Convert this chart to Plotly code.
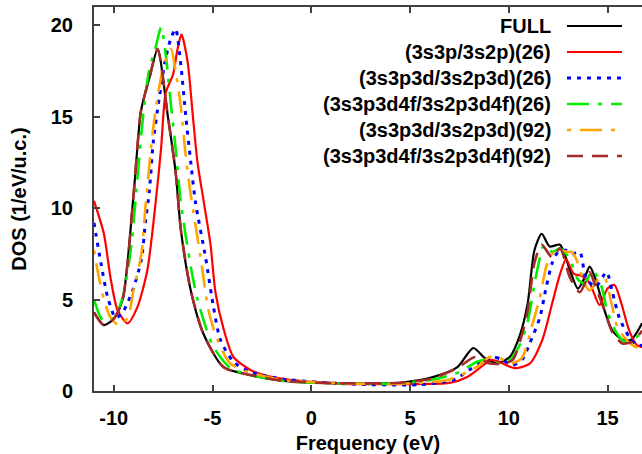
import plotly.graph_objects as go

# ---- data ----
full_x = [-11, -10.5, -10.0, -9.55, -9.0, -8.64, -8.43, -8.2, -7.78, -7.27, -6.87, -6.6, -6.1, -5.45, -4.44, -3.08, -1.4,
          1.1, 4.5, 6.2, 7.4, 8.2, 8.8, 9.4, 10.05, 10.55, 10.96, 11.3, 11.67, 12.07, 12.6, 13.1, 13.5, 13.84, 14.1,
          14.4, 14.85, 15.25, 15.76, 16.2, 16.75]
full_y = [4.3, 3.6, 3.95, 5.0, 10.7, 15.2, 16.2, 17.1, 18.7, 15.1, 12.0, 8.8, 5.5, 3.1, 1.3, 0.87, 0.55,
          0.43, 0.45, 0.77, 1.3, 2.35, 1.8, 1.53, 1.86, 3.0, 4.8, 7.7, 8.6, 7.9, 8.0, 6.6, 5.6, 6.2, 6.8,
          6.1, 4.4, 3.3, 2.8, 2.8, 3.7]

sp26_x = [-11, -10.5, -10.15, -9.8, -9.3, -8.8, -8.3, -7.88, -7.6, -7.37, -7.0, -6.77, -6.57, -6.26, -6.0, -5.76, -5.45,
          -5.1, -4.85, -4.44, -3.94, -3.08, -2.2, -0.55, 2.0, 4.5, 7.0, 7.9, 8.7, 9.1, 9.5, 10.3, 11.06, 11.7, 12.2,
          12.6, 12.9, 13.3, 13.7, 14.1, 14.6, 15.0, 15.35, 15.7, 16.1, 16.5, 16.75]
sp26_y = [10.4, 8.6, 6.1, 4.4, 3.7, 4.6, 6.6, 10.3, 13.3, 16.3, 17.3, 18.7, 19.5, 18.0, 15.1, 12.5, 10.4,
          8.0, 5.4, 3.4, 1.86, 1.15, 0.82, 0.55, 0.38, 0.38, 0.44, 0.77, 1.4, 1.7, 1.6, 1.25, 1.5, 2.8, 4.8,
          6.4, 7.2, 6.4, 6.3, 5.9, 4.7, 5.6, 5.8, 4.8, 3.3, 2.5, 2.4]

spd26_x = [-11, -10.65, -10.3, -9.9, -9.55, -9.04, -8.6, -8.4, -8.2, -8.0, -7.7, -7.37, -7.1, -6.87, -6.6, -6.36, -6.1,
           -5.86, -5.35, -4.95, -4.6, -3.94, -3.08, -1.4, 2.0, 5.5, 7.2, 8.0, 8.5, 9.2, 9.7, 10.2, 10.7, 11.06, 11.57,
           11.9, 12.2, 12.5, 12.9, 13.2, 13.6, 13.9, 14.4, 14.95, 15.25, 15.6, 16.1, 16.5, 16.75]
spd26_y = [9.2, 7.0, 5.1, 4.0, 4.3, 5.5, 7.2, 9.2, 10.9, 13.6, 16.0, 18.2, 19.3, 19.8, 17.8, 15.1, 12.5,
           10.3, 7.3, 4.6, 2.8, 1.6, 1.04, 0.65, 0.38, 0.35, 0.6, 1.15, 1.5, 1.86, 1.7, 1.4, 1.75, 2.6, 4.0,
           5.7, 7.0, 7.6, 7.7, 7.5, 7.6, 6.2, 5.7, 6.5, 5.4, 4.0, 2.95, 2.5, 2.5]

spdf26_x = [-11, -10.65, -10.4, -10.0, -9.55, -9.14, -8.9, -8.5, -8.2, -7.9, -7.6, -7.37, -7.1, -6.87, -6.6, -6.1,
            -5.76, -5.25, -4.95, -4.1, -3.08, -1.4, 2.0, 4.5, 6.5, 7.5, 8.4, 8.9, 9.5, 10.05, 10.55, 10.96, 11.4, 11.8,
            12.2, 12.6, 13.1, 13.5, 13.84, 14.25, 14.7, 15.0, 15.45, 15.86, 16.26, 16.75]
spdf26_y = [5.0, 4.0, 3.8, 4.0, 5.1, 7.7, 10.4, 15.2, 17.6, 18.7, 19.9, 18.4, 15.6, 13.3, 10.3, 6.8,
            5.0, 3.2, 2.4, 1.26, 0.87, 0.55, 0.4, 0.42, 0.7, 1.04, 1.6, 1.7, 1.5, 1.7, 2.5, 3.8, 6.4, 8.0,
            7.6, 7.8, 7.2, 6.1, 5.9, 6.6, 5.7, 4.3, 3.2, 2.7, 2.8, 3.2]

spd92_x = [-11, -10.75, -10.5, -10.15, -9.75, -9.3, -9.0, -8.6, -8.4, -8.0, -7.7, -7.47, -7.1, -6.87, -6.6, -6.36,
           -6.1, -5.6, -5.2, -4.75, -4.1, -3.08, -1.4, 2.0, 4.5, 6.9, 7.9, 8.5, 9.04, 9.55, 10.05, 10.66, 11.16, 11.57,
           11.9, 12.2, 12.6, 13.0, 13.2, 13.5, 13.75, 14.1, 14.6, 14.85, 15.2, 15.5, 15.96, 16.46, 16.75]
spd92_y = [7.7, 6.2, 5.0, 4.0, 3.6, 4.0, 5.5, 7.5, 10.0, 14.4, 16.6, 17.8, 18.7, 17.5, 15.5, 12.9,
           10.7, 7.3, 4.4, 2.8, 1.5, 1.0, 0.6, 0.4, 0.4, 0.6, 1.04, 1.4, 1.86, 1.8, 1.5, 1.8, 3.5, 5.1,
           6.8, 7.5, 7.7, 7.6, 7.6, 7.0, 6.1, 5.5, 6.2, 6.2, 4.8, 3.5, 2.8, 2.4, 2.5]

spdf92_x = [-11, -10.5, -10.0, -9.55, -9.0, -8.64, -8.43, -8.2, -7.78, -7.27, -6.87, -6.6, -6.1, -5.45, -4.44, -3.08,
            -1.4, 1.1, 4.5, 6.16, 7.4, 8.3, 9.04, 9.7, 10.2, 10.7, 10.96, 11.3, 11.67, 12.2, 12.6, 13.1, 13.6, 13.9,
            14.1, 14.4, 14.85, 15.25, 15.76, 16.26, 16.75]
spdf92_y = [4.3, 3.6, 3.95, 5.0, 10.7, 15.2, 16.2, 17.1, 18.7, 15.1, 12.0, 8.8, 5.5, 3.1, 1.3, 0.87,
            0.55, 0.43, 0.45, 0.7, 1.26, 1.86, 1.5, 1.5, 1.7, 3.2, 4.4, 7.0, 8.0, 7.3, 7.8, 6.2, 5.4, 6.0,
            6.5, 5.7, 4.4, 3.2, 2.6, 2.7, 3.3]

names = ["FULL", "(3s3p/3s2p)(26)", "(3s3p3d/3s2p3d)(26)", "(3s3p3d4f/3s2p3d4f)(26)",
         "(3s3p3d/3s2p3d)(92)", "(3s3p3d4f/3s2p3d4f)(92)"]
xs = [full_x, sp26_x, spd26_x, spdf26_x, spd92_x, spdf92_x]
ys = [full_y, sp26_y, spd26_y, spdf26_y, spd92_y, spdf92_y]
colors = ["#000000", "#ff0000", "#0000ff", "#00ee00", "#ffa500", "#a52a2a"]
dashes = ["solid", "solid", "4px,6px", "22px,9px,4px,9px", "4px,9px,22px,9px", "16px,9px"]
widths = [2.2, 2.2, 3.0, 2.6, 2.6, 2.6]

x_ticks = [-10, -5, 0, 5, 10, 15]
y_ticks = [0, 5, 10, 15, 20]

FONT = "Liberation Sans, Arial, sans-serif"

W, H = 642, 454
L, R, T, B = 94, 642, 7, 391   # plot area in page pixels (page body margin removed below)

fig = go.Figure()
for n, x, y, c, d, w in zip(names, xs, ys, colors, dashes, widths):
    fig.add_trace(go.Scatter(x=x, y=y, mode="lines", name=n, showlegend=False, hoverinfo="skip",
                             line=dict(color=c, dash=d, width=w, shape="spline", smoothing=0.7)))

# gnuplot-style key: right-aligned text with line sample on its right
def px(xp):
    return (xp - L) / (R - L)
def py(yp):
    return (B - yp) / (B - T)

row_y = [26, 52, 78, 104, 130, 156]
for n, c, d, w, yy in zip(names, colors, dashes, widths, row_y):
    fig.add_annotation(x=px(553), y=py(yy), xref="paper", yref="paper", text=n, showarrow=False,
                       xanchor="right", yanchor="middle",
                       font=dict(family=FONT, size=20, color="#000000", weight="bold"))
    fig.add_shape(type="line", xref="paper", yref="paper", x0=px(567), x1=px(622), y0=py(yy), y1=py(yy),
                  line=dict(color=c, dash=d, width=w))

axis_common = dict(showline=True, linecolor="#404040", linewidth=2, ticks="inside", ticklen=6,
                   tickcolor="#404040", tickwidth=1.5, showgrid=False, zeroline=False,
                   tickfont=dict(family=FONT, size=20, color="#000000", weight="bold"))

fig.update_xaxes(range=[-11, -11 + (R - L) / 19.75], tickvals=x_ticks, ticktext=[str(v) for v in x_ticks],
                 mirror="ticks", ticklabelstandoff=8,
                 title=dict(text="Frequency (eV)", standoff=8,
                            font=dict(family=FONT, size=20, color="#000000", weight="bold")),
                 **axis_common)
fig.update_yaxes(range=[0, 21], tickvals=y_ticks, ticktext=[str(v) for v in y_ticks],
                 mirror=False, ticklabelstandoff=15,
                 title=dict(text="DOS (1/eV/u.c.)", standoff=19,
                            font=dict(family=FONT, size=20, color="#000000", weight="bold")),
                 **axis_common)

fig.update_layout(width=W, height=H, margin=dict(l=L, r=W - R, t=T, b=H - B),
                  plot_bgcolor="white", paper_bgcolor="white", showlegend=False, hovermode=False)

fig.write_html("out.html", config={"displayModeBar": False},
               post_script="document.body.style.margin='0';document.body.style.overflow='hidden';"
                           "document.documentElement.style.overflow='hidden';")
